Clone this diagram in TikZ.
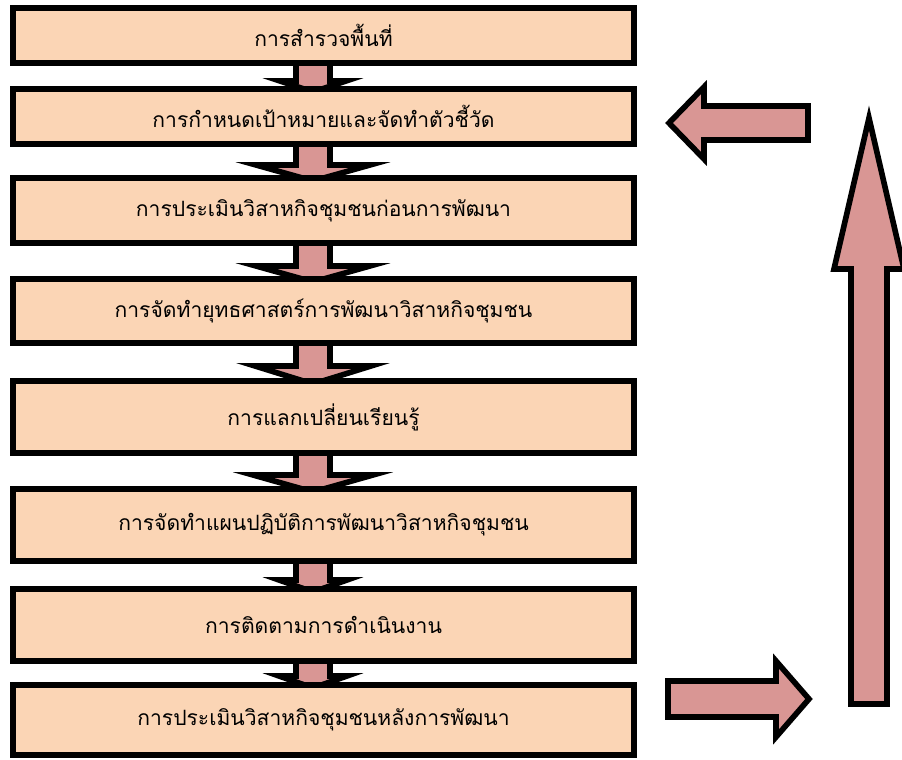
\documentclass[tikz,border=0pt]{standalone}
\usepackage{fontspec}
\newfontfamily\thaifont[Script=Thai]{Loma}
\usepackage{tikz}
\usetikzlibrary{calc,backgrounds}
\definecolor{boxfill}{RGB}{251,213,181}
\definecolor{arrowfill}{RGB}{217,150,148}
\tikzset{stepbox/.style={draw,line width=4.3pt,fill=boxfill,minimum width=15.525cm,inner sep=0pt,outer sep=0pt,font=\thaifont\fontsize{15}{18}\selectfont},
fatarrow/.style={draw,line width=4pt,fill=arrowfill,line join=miter}}
% block arrow from box #1 down to box #2, head half width #3, head height #4
\newcommand{\downblock}[4]{\draw[fatarrow] ($(#1.center)+(-27.5,0)$) -- ($(#2.north)+(-27.5,-#4)$) -- ($(#2.north)+(-10.5-#3,-#4)$) -- ($(#2.north)+(-10.5,3)$) -- ($(#2.north)+(-10.5+#3,-#4)$) -- ($(#2.north)+(6.5,-#4)$) -- ($(#1.center)+(6.5,0)$) -- cycle;}

\begin{document}
\begin{tikzpicture}[x=0.025cm,y=-0.025cm]
\useasboundingbox (0,0) rectangle (902,760);
%steps of the process
\node[stepbox,minimum height=1.375cm] (survey) at (323.5,35.5) {การสำรวจพื้นที่};
\node[stepbox,minimum height=1.375cm] (target) at (323.5,116.5) {การกำหนดเป้าหมายและจัดทำตัวชี้วัด};
\node[stepbox,minimum height=1.625cm] (before) at (323.5,210.5) {การประเมินวิสาหกิจชุมชนก่อนการพัฒนา};
\node[stepbox,minimum height=1.6cm] (strategy) at (323.5,311) {การจัดทำยุทธศาสตร์การพัฒนาวิสาหกิจชุมชน};
\node[stepbox,minimum height=1.8cm] (exchange) at (323.5,417) {การแลกเปลี่ยนเรียนรู้};
\node[stepbox,minimum height=1.8cm] (plan) at (323.5,525) {การจัดทำแผนปฏิบัติการพัฒนาวิสาหกิจชุมชน};
\node[stepbox,minimum height=1.8cm] (follow) at (323.5,625) {การติดตามการดำเนินงาน};
\node[stepbox,minimum height=1.75cm] (after) at (323.5,720) {การประเมินวิสาหกิจชุมชนหลังการพัฒนา};
%arrows between the steps, behind the boxes
\begin{scope}[on background layer]
\downblock{survey}{target}{33}{8}
\downblock{target}{before}{57}{13}
\downblock{before}{strategy}{57}{13}
\downblock{strategy}{exchange}{58}{15}
\downblock{exchange}{plan}{60}{14}
\downblock{plan}{follow}{34}{9}
\downblock{follow}{after}{34}{9}
\end{scope}
%feedback arrows on the right
\draw[fatarrow] (668,681) -- (776,681) -- (776,661) -- (809,699) -- (776,737) -- (776,717) -- (668,717) -- cycle;
\draw[fatarrow] (851,704) -- (851,269) -- (834,269) -- (869,118) -- (904,269) -- (887,269) -- (887,704) -- cycle;
\draw[fatarrow] (808,106) -- (704,106) -- (704,87) -- (669,123) -- (704,159) -- (704,140) -- (808,140) -- cycle;
\end{tikzpicture}
\end{document}
